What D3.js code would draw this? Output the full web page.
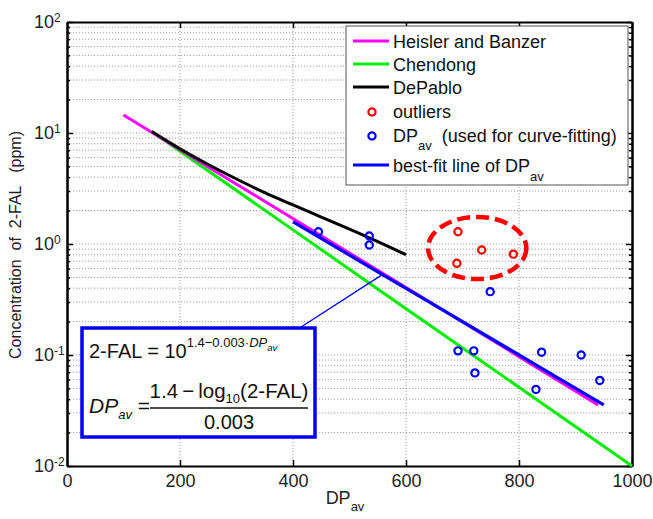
<!DOCTYPE html>
<html><head><meta charset="utf-8">
<script src="https://cdn.jsdelivr.net/npm/d3@7/dist/d3.min.js"></script>
<style>
body{margin:0;background:#fff;}
svg{font-family:"Liberation Sans",Arial,sans-serif;}
</style></head>
<body><svg id="c" width="653" height="519"></svg>
<script>
// ---- data ----
const heislerDP  = [100, 300, 500, 700, 940];
const heislerVal = [14.5, 3.46, 0.828, 0.198, 0.0355];
const chendongDP  = [150, 400, 600, 800, 1000];
const chendongVal = [10.3, 1.34, 0.261, 0.0512, 0.0100];
const depabloDP  = [150, 200, 250, 300, 350, 400, 450, 500, 550, 600];
const depabloVal = [10.3, 7.2, 5.2, 3.85, 2.9, 2.25, 1.75, 1.36, 1.05, 0.80];
const fitDP  = [400, 550, 700, 850, 950];
const fitVal = [1.585, 0.562, 0.200, 0.0708, 0.0355];
const pointDP  = [445, 535, 535, 692, 720, 722, 749, 830, 840, 910, 943];
const pointVal = [1.29, 1.18, 0.98, 0.109, 0.109, 0.069, 0.372, 0.049, 0.106, 0.100, 0.059];
const outlierDP  = [690, 692, 734, 790];
const outlierVal = [0.67, 1.29, 0.883, 0.81];
const xTicks = [0, 200, 400, 600, 800, 1000];
const yTicks = [0.01, 0.1, 1, 10, 100];
const yTickExp = ["-2", "-1", "0", "1", "2"];
const legendLabels = ["Heisler and Banzer", "Chendong", "DePablo", "outliers", "DP", "best-fit line of DP"];
const connectorDP = 558, connectorVal = 0.53;
const ellipseDP = 726, ellipseVal = 0.92, ellipseHalfWidthDP = 87, ellipseHalfDecades = 0.28;

const svg = d3.select("#c");
const L = 67, R = 632, T = 22, B = 466;
const x = d3.scaleLinear().domain([0, 1000]).range([L, R]);
const y = d3.scaleLog().domain([0.01, 100]).range([B, T]);

// grid
const minor = [];
for (let d = -2; d <= 1; d++) for (let m = 1; m <= 9; m++) minor.push(m * Math.pow(10, d));
const gridY = minor.filter(v => v > 0.0100001);
const g = svg.append("g");
g.selectAll("line.gy").data(gridY).join("line")
  .attr("x1", L).attr("x2", R).attr("y1", d => y(d)).attr("y2", d => y(d))
  .attr("stroke", "#a0a0a0").attr("stroke-width", 1).attr("stroke-dasharray", "1.2,1.8");
g.selectAll("line.gx").data(xTicks.slice(1, -1)).join("line")
  .attr("y1", T).attr("y2", B).attr("x1", d => x(d)).attr("x2", d => x(d))
  .attr("stroke", "#a0a0a0").attr("stroke-width", 1).attr("stroke-dasharray", "1.2,1.8");

// axes
const fs = 18;
const ax = svg.append("g").attr("transform", `translate(0,${B})`)
  .call(d3.axisBottom(x).tickValues(xTicks).tickSize(-6).tickSizeOuter(0).tickPadding(8).tickFormat(d3.format("d")));
ax.selectAll("text").attr("font-size", fs).attr("fill", "#222").attr("font-family", "Liberation Sans, Arial, sans-serif");
svg.append("g").attr("transform", `translate(0,${T})`)
  .call(d3.axisTop(x).tickValues(xTicks).tickSize(-6).tickSizeOuter(0).tickFormat(""));
const ay = svg.append("g").attr("transform", `translate(${L},0)`)
  .call(d3.axisLeft(y).tickValues(yTicks).tickSize(-6).tickSizeOuter(0).tickPadding(16).tickFormat(""));
ay.selectAll(".tick text").each(function(d, i) {
  const t = d3.select(this).attr("font-size", fs).attr("fill", "#222")
    .attr("font-family", "Liberation Sans, Arial, sans-serif").attr("text-anchor", "start").attr("x", -33);
  t.append("tspan").text("10");
  t.append("tspan").attr("font-size", 12).attr("dy", "-0.55em").text(yTickExp[i]);
});
const minorTicks = gridY.filter(v => ![0.1, 1, 10].includes(v));
svg.append("g").attr("transform", `translate(${L},0)`)
  .call(d3.axisLeft(y).tickValues(minorTicks).tickSize(-3).tickSizeOuter(0).tickFormat(""));
svg.append("g").attr("transform", `translate(${R},0)`)
  .call(d3.axisRight(y).tickValues(yTicks).tickSize(-6).tickSizeOuter(0).tickFormat(""));
svg.append("g").attr("transform", `translate(${R},0)`)
  .call(d3.axisRight(y).tickValues(minorTicks).tickSize(-3).tickSizeOuter(0).tickFormat(""));
svg.selectAll(".domain").attr("stroke", "#000").attr("stroke-width", 2);
svg.selectAll(".tick line").attr("stroke", "#000").attr("stroke-width", 1.5);

// axis titles
const xt = svg.append("text").attr("x", 345).attr("y", 504).attr("text-anchor", "middle")
  .attr("font-size", 18).attr("fill", "#222");
xt.append("tspan").text("DP");
xt.append("tspan").attr("font-size", 13).attr("dy", 7).text("av");
svg.append("text").attr("transform", "translate(21,245) rotate(-90)").attr("text-anchor", "middle")
  .attr("font-size", 16).attr("fill", "#222").style("white-space", "pre")
  .text("Concentration  of  2-FAL   (ppm)");

// lines
const line = d3.line().x(d => x(d[0])).y(d => y(d[1])).curve(d3.curveMonotoneX);
function drawLine(dp, val, color, w) {
  svg.append("path").datum(dp.map((d, i) => [d, val[i]])).attr("d", line)
    .attr("fill", "none").attr("stroke", color).attr("stroke-width", w);
}
drawLine(chendongDP, chendongVal, "#00ee00", 3);
drawLine(heislerDP, heislerVal, "#ff00ff", 3);
drawLine(depabloDP, depabloVal, "#000000", 3);
drawLine(fitDP, fitVal, "#0000ff", 3.2);

// points
function drawPts(dp, val, color) {
  svg.append("g").selectAll("circle").data(dp.map((d, i) => [d, val[i]])).join("circle")
    .attr("cx", d => x(d[0])).attr("cy", d => y(d[1])).attr("r", 3.6)
    .attr("fill", "none").attr("stroke", color).attr("stroke-width", 2.2);
}
drawPts(pointDP, pointVal, "#0000ff");
drawPts(outlierDP, outlierVal, "#ff0000");

// ellipse
const ecx = x(ellipseDP), ecy = y(ellipseVal);
svg.append("ellipse").attr("cx", ecx).attr("cy", ecy)
  .attr("rx", x(ellipseDP + ellipseHalfWidthDP) - ecx)
  .attr("ry", y(ellipseVal / Math.pow(10, ellipseHalfDecades)) - ecy)
  .attr("fill", "none").attr("stroke", "#ff0000").attr("stroke-width", 4.5).attr("stroke-dasharray", "13,6");

// formula box
const bx = 82, by = 328, bw = 233, bh = 109;
svg.append("line").attr("x1", bx + bw - 17).attr("y1", by + 1).attr("x2", x(connectorDP)).attr("y2", y(connectorVal))
  .attr("stroke", "#0000ff").attr("stroke-width", 1.3);
svg.append("rect").attr("x", bx).attr("y", by).attr("width", bw).attr("height", bh)
  .attr("fill", "#fff").attr("stroke", "#0000ff").attr("stroke-width", 3.5);
const f1 = svg.append("text").attr("x", bx + 7).attr("y", by + 30).attr("font-size", 20).attr("fill", "#111")
  .style("white-space", "pre");
f1.append("tspan").text("2-FAL = 10");
f1.append("tspan").attr("font-size", 13).attr("dy", -11).text("1.4\u22120.003\u00b7");
f1.append("tspan").attr("font-size", 13).attr("font-style", "italic").text("DP");
f1.append("tspan").attr("font-size", 9.5).attr("font-style", "italic").attr("dy", 4).text("av");
const f2 = svg.append("text").attr("x", bx + 7).attr("y", by + 85).attr("font-size", 21).attr("fill", "#111")
  .style("white-space", "pre");
f2.append("tspan").attr("font-style", "italic").text("DP");
f2.append("tspan").attr("font-style", "italic").attr("font-size", 13).attr("dy", 6).text("av");
f2.append("tspan").attr("dy", -6).text(" =");
const fc = 229;
const num = svg.append("text").attr("x", fc).attr("y", by + 70).attr("text-anchor", "middle").attr("font-size", 20.5).attr("fill", "#111");
num.append("tspan").text("1.4\u2009\u2212\u2009log");
num.append("tspan").attr("font-size", 13).attr("dy", 5).text("10");
num.append("tspan").attr("dy", -5).text("(2-FAL)");
svg.append("line").attr("x1", 150).attr("x2", 308).attr("y1", by + 80).attr("y2", by + 80).attr("stroke", "#111").attr("stroke-width", 1.3);
svg.append("text").attr("x", fc).attr("y", by + 101).attr("text-anchor", "middle").attr("font-size", 20).attr("fill", "#111").text("0.003");

// legend
svg.append("rect").attr("x", 346).attr("y", 26).attr("width", 282).attr("height", 159)
  .attr("fill", "#fff").attr("stroke", "#555").attr("stroke-width", 1);
const rowY = [41, 64, 87, 111, 135, 165];
const lcolors = ["#ff00ff", "#00ee00", "#000000", "#ff0000", "#0000ff", "#0000ff"];
legendLabels.forEach((lab, i) => {
  const cy = rowY[i];
  if (i === 3 || i === 4) {
    svg.append("circle").attr("cx", 372).attr("cy", cy + 1).attr("r", 3.6).attr("fill", "none")
      .attr("stroke", lcolors[i]).attr("stroke-width", 2.2);
  } else {
    svg.append("line").attr("x1", 353).attr("x2", 389).attr("y1", cy).attr("y2", cy)
      .attr("stroke", lcolors[i]).attr("stroke-width", 3);
  }
  const t = svg.append("text").attr("x", 393).attr("y", cy + 6.5).attr("font-size", 18).attr("fill", "#111")
    .style("white-space", "pre");
  t.append("tspan").text(lab);
  if (i === 4) {
    t.append("tspan").attr("font-size", 13).attr("dy", 8).text("av");
    t.append("tspan").attr("dy", -8).text("  (used for curve-fitting)");
  }
  if (i === 5) {
    t.append("tspan").attr("font-size", 13).attr("dy", 9).text("av");
  }
});
</script></body></html>
